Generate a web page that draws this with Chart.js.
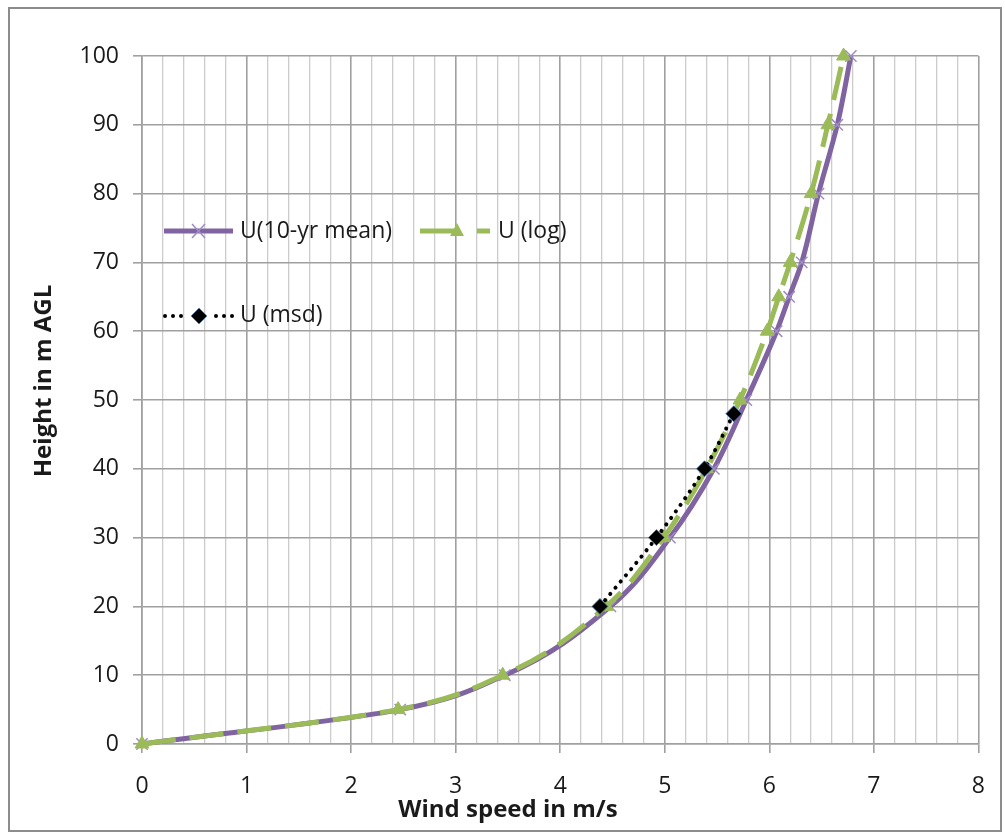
<!DOCTYPE html>
<html>
<head>
<meta charset="utf-8">
<script src="https://cdn.jsdelivr.net/npm/chart.js@4.4.1/dist/chart.umd.min.js"></script>
<style>
  html, body { margin: 0; padding: 0; background: #fff; }
  #wrap { width: 1005px; height: 834px; position: relative; }
</style>
</head>
<body>
<div id="wrap"><canvas id="c" width="1005" height="834"></canvas></div>
<script>
// ---- Data ----
const heights = [0, 5, 10, 20, 30, 40, 50, 60, 65, 70, 80, 90, 100];
const uMean   = [0, 2.47, 3.47, 4.48, 5.05, 5.47, 5.78, 6.07, 6.19, 6.31, 6.47, 6.65, 6.78];
const uLog    = [0, 2.45, 3.45, 4.44, 4.99, 5.40, 5.72, 5.98, 6.09, 6.20, 6.40, 6.56, 6.71];
const msdHeights = [20, 30, 40, 48];
const uMsd       = [4.38, 4.92, 5.38, 5.66];
const xTicks = [0, 1, 2, 3, 4, 5, 6, 7, 8];
const yTicks = [0, 10, 20, 30, 40, 50, 60, 70, 80, 90, 100];
const seriesNames = ['U(10-yr mean)', 'U (log)', 'U (msd)'];
const xTitle = 'Wind speed in m/s';
const yTitle = 'Height in m AGL';

const PURPLE = '#8064A2';
const PURPLE_MARK = '#9F8CC4';
const GREEN = '#9BBB59';
const FONT = '"Open Sans"';

const toPts = (xs, ys) => xs.map((x, i) => ({ x: x, y: ys[i] }));
const isInt = v => Math.abs(v - Math.round(v)) < 1e-6;

const framePlugin = {
  id: 'frame',
  beforeDraw(chart) {
    const ctx = chart.ctx;
    ctx.save();
    ctx.fillStyle = '#fff';
    ctx.fillRect(0, 0, chart.width, chart.height);
    ctx.strokeStyle = '#8c8c8c';
    ctx.lineWidth = 2;
    ctx.strokeRect(9, 8, 992, 823);
    ctx.restore();
  },
  afterDraw(chart) {
    const ctx = chart.ctx;
    ctx.save();
    // axis titles
    ctx.fillStyle = '#1a1a1a';
    ctx.font = 'bold 24px ' + FONT;
    ctx.textAlign = 'center';
    ctx.textBaseline = 'middle';
    ctx.fillText(xTitle, 508, 810);
    ctx.save();
    ctx.translate(44, 381);
    ctx.rotate(-Math.PI / 2);
    ctx.fillText(yTitle, 0, 0);
    ctx.restore();

    // legend
    ctx.font = '23px ' + FONT;
    ctx.textAlign = 'left';
    ctx.textBaseline = 'middle';
    // purple
    ctx.strokeStyle = PURPLE; ctx.lineWidth = 5; ctx.lineCap = 'butt';
    ctx.beginPath(); ctx.moveTo(164, 231); ctx.lineTo(233, 231); ctx.stroke();
    ctx.strokeStyle = PURPLE_MARK; ctx.lineWidth = 1.5;
    ctx.beginPath();
    ctx.moveTo(192, 224); ctx.lineTo(205, 238);
    ctx.moveTo(205, 224); ctx.lineTo(192, 238);
    ctx.stroke();
    ctx.fillStyle = '#1a1a1a';
    ctx.fillText(seriesNames[0], 240, 231);
    // green
    ctx.strokeStyle = GREEN; ctx.lineWidth = 5;
    ctx.beginPath();
    ctx.moveTo(420, 231); ctx.lineTo(456, 231);
    ctx.moveTo(477, 231); ctx.lineTo(490, 231);
    ctx.stroke();
    ctx.fillStyle = GREEN;
    ctx.beginPath();
    ctx.moveTo(457, 223); ctx.lineTo(464, 236); ctx.lineTo(450, 236); ctx.closePath();
    ctx.fill();
    ctx.fillStyle = '#1a1a1a';
    ctx.fillText(seriesNames[1], 498, 231);
    // msd
    ctx.fillStyle = '#000';
    [165, 173, 181, 216, 224, 232].forEach(x => {
      ctx.beginPath(); ctx.arc(x, 316, 2, 0, Math.PI * 2); ctx.fill();
    });
    ctx.beginPath();
    ctx.moveTo(199, 308); ctx.lineTo(207, 316); ctx.lineTo(199, 324); ctx.lineTo(191, 316); ctx.closePath();
    ctx.fill();
    ctx.strokeStyle = '#4F81BD'; ctx.lineWidth = 0.8; ctx.stroke();
    ctx.fillStyle = '#1a1a1a';
    ctx.fillText(seriesNames[2], 240, 315);
    ctx.restore();
  }
};

new Chart(document.getElementById('c'), {
  type: 'scatter',
  data: {
    datasets: [
      {
        label: seriesNames[0],
        data: toPts(uMean, heights),
        showLine: true,
        clip: 12,
        borderColor: PURPLE,
        borderWidth: 5,
        cubicInterpolationMode: 'monotone',
        pointStyle: 'crossRot',
        pointRadius: 8,
        pointBorderColor: PURPLE_MARK,
        pointBorderWidth: 1.5,
        pointBackgroundColor: PURPLE_MARK,
        order: 3
      },
      {
        label: seriesNames[1],
        data: toPts(uLog, heights),
        showLine: true,
        clip: 12,
        borderColor: GREEN,
        borderWidth: 5,
        borderDash: [34, 14],
        cubicInterpolationMode: 'monotone',
        pointStyle: 'triangle',
        pointRadius: 8,
        pointBackgroundColor: GREEN,
        pointBorderColor: GREEN,
        pointBorderWidth: 1,
        order: 2
      },
      {
        label: seriesNames[2],
        data: toPts(uMsd, msdHeights),
        showLine: true,
        clip: 12,
        borderColor: '#000',
        borderWidth: 4,
        borderDash: [0.1, 8],
        borderCapStyle: 'round',
        cubicInterpolationMode: 'monotone',
        pointStyle: 'rectRot',
        pointRadius: 8,
        pointBackgroundColor: '#000',
        pointBorderColor: '#4F81BD',
        pointBorderWidth: 0.8,
        order: 1
      }
    ]
  },
  options: {
    indexAxis: 'y',
    responsive: false,
    animation: false,
    devicePixelRatio: 1,
    layout: { padding: { left: 0, top: 56, right: 21, bottom: 0 } },
    plugins: {
      legend: { display: false },
      tooltip: { enabled: false },
      title: { display: false }
    },
    scales: {
      x: {
        type: 'linear',
        position: 'bottom',
        min: 0, max: 8,
        afterFit(s) { s.height = 90; },
        afterBuildTicks(s) {
          const t = [];
          for (let i = 0; i <= 40; i++) t.push({ value: i / 5 });
          s.ticks = t;
        },
        ticks: {
          autoSkip: false, maxRotation: 0, padding: 20,
          font: { family: FONT, size: 23 }, color: '#1a1a1a',
          callback: v => (isInt(v) && xTicks.includes(Math.round(v))) ? String(Math.round(v)) : ''
        },
        grid: {
          color: c => isInt(c.tick.value) ? '#a0a0a0' : '#cccccc',
          lineWidth: c => isInt(c.tick.value) ? 1.6 : 1.3,
          tickColor: c => isInt(c.tick.value) ? '#a0a0a0' : 'rgba(0,0,0,0)',
          tickLength: 9
        },
        border: { color: '#a0a0a0', width: 1.6 }
      },
      y: {
        type: 'linear',
        position: 'left',
        min: 0, max: 100,
        afterFit(s) { s.width = 142; },
        afterBuildTicks(s) { s.ticks = yTicks.map(v => ({ value: v })); },
        ticks: {
          padding: 14,
          font: { family: FONT, size: 23 }, color: '#1a1a1a'
        },
        grid: { color: '#a0a0a0', lineWidth: 1.6, tickLength: 9, tickColor: '#a0a0a0' },
        border: { color: '#a0a0a0', width: 1.6 }
      }
    }
  },
  plugins: [framePlugin]
});
</script>
</body>
</html>
